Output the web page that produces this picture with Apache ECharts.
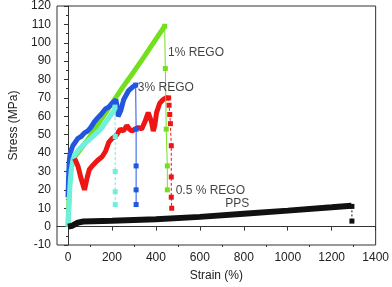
<!DOCTYPE html>
<html><head><meta charset="utf-8">
<script src="https://cdn.jsdelivr.net/npm/echarts@6/dist/echarts.min.js"></script>
<style>html,body{margin:0;padding:0;background:#fff}#c{width:392px;height:287px}</style>
</head><body><div id="c"></div>
<script>
const xMajorTicks = [0,200,400,600,800,1000,1200,1400];
const xMinorTicks = [100,300,500,700,900,1100,1300];

const greenMain = [[0,0],[3,10],[6,20],[10,28],[15,32],[25,37],[50,41],[100,49],[150,58],[194,66],[250,76],[298,84],[350,93],[400,102],[440,109]];
const greenDrop = [[440,109],[443,86],[447,53],[452,33],[452,20]];

const blueMain = [[0,16],[3,28],[6,36],[10,40],[22,44],[45,48],[60,49],[75,51],[90,52],[104,54],[120,57],[134,59],[150,61],[170,64],[185,65],[200,67],[218,69],[224,65],[228,60],[234,59],[240,63],[253,69],[262,70],[276,74],[295,76],[308,77]];
const blueDrop = [[308,77],[310,53],[310,33],[310,20],[310,12]];

const cyanMain = [[0,0],[4,10],[7,18],[11,26],[15,31],[22,36],[30,39],[50,42],[75,45],[104,48],[149,53],[179,58],[209,63],[214,65]];
const cyanDrop = [[214,65],[215,49],[215,30],[215,19],[215,12]];

const redMain = [[30,37],[45,33],[60,26],[75,20],[88,27],[97,31],[110,33],[134,36],[155,38],[171,41],[186,46],[201,48],[216,49],[238,53],[252,52],[268,55],[280,53],[291,52],[305,53],[320,54],[335,53],[350,57],[365,62],[373,63],[380,57],[388,52],[395,55],[403,62],[417,67],[432,69],[445,70],[458,70]];
const redDrop = [[458,70],[460,66],[463,61],[466,56],[470,44],[470,27],[470,16],[472,10]];

const ppsMain = [[0,0],[20,0.5],[45,2.2],[70,2.8],[200,3.2],[400,4],[600,5.3],[800,7],[1000,8.7],[1200,10.5],[1290,11.4]];
const ppsDrop = [[1292,11],[1292,3]];

const labelNames = ['1% REGO','3% REGO','0.5 % REGO','PPS'];
const labelPos = [[455,94.5],[318,75.5],[490,19.4],[716,12.6]];

const FONT = 'Liberation Sans, Arial, sans-serif';
const G = '#72e01e', B = '#2255e0', C = '#6ff0dc', R = '#ee1515', K = '#111111';

function mainLine(data, color, w){
  return {type:'line', data, symbol:'none', lineStyle:{color, width:w}, animation:false, z:2};
}
function dropLine(data, color, dashed){
  return {type:'line', data, symbol:'rect', symbolSize:5, showSymbol:true,
    itemStyle:{color}, lineStyle:{color, width:1, type: dashed?[3,2]:'solid'}, animation:false, z:3};
}

const chart = echarts.init(document.getElementById('c'), null, {renderer:'canvas'});
chart.setOption({
  animation:false,
  grid:{left:54, right:14, top:6, bottom:41, show:true, borderColor:'#333', borderWidth:1},
  xAxis:[{
    type:'value', min:-50, max:1400,
    name:'Strain (%)', nameLocation:'middle', nameGap:25,
    nameTextStyle:{fontFamily:FONT, fontSize:12, color:'#222'},
    axisLine:{show:true, lineStyle:{color:'#333'}},
    axisTick:{show:true, customValues:xMajorTicks, length:4, inside:false, lineStyle:{color:'#333'}},
    axisLabel:{customValues:xMajorTicks, formatter:v=>String(v), fontFamily:FONT, fontSize:12, color:'#222', margin:7},
    splitLine:{show:false}
  },{
    type:'value', min:-50, max:1400, position:'bottom',
    axisLine:{show:false},
    axisTick:{show:true, customValues:xMinorTicks, length:2, lineStyle:{color:'#333'}},
    axisLabel:{show:false}, splitLine:{show:false}
  }],
  yAxis:{
    type:'value', min:-10, max:120, interval:10,
    name:'Stress (MPa)', nameLocation:'middle', nameGap:37,
    nameTextStyle:{fontFamily:FONT, fontSize:12, color:'#222'},
    axisLine:{show:true, lineStyle:{color:'#333'}},
    axisTick:{show:true, length:4, lineStyle:{color:'#333'}},
    minorTick:{show:true, splitNumber:2, length:2, lineStyle:{color:'#333'}},
    axisLabel:{fontFamily:FONT, fontSize:12, color:'#222', margin:6},
    splitLine:{show:false}
  },
  series:[
    mainLine(greenMain, G, 5), dropLine(greenDrop, G, false),
    mainLine(blueMain, B, 5), dropLine(blueDrop, B, false),
    mainLine(cyanMain, C, 5), dropLine(cyanDrop, C, true),
    mainLine(redMain, R, 5), dropLine(redDrop, R, true),
    mainLine(ppsMain, K, 6),
    {type:'line', data:ppsDrop, symbol:'rect', symbolSize:5, showSymbol:true, itemStyle:{color:K},
     lineStyle:{color:K, width:1, type:[2,2]}, animation:false, z:3},
    {type:'scatter', symbolSize:0, animation:false, z:5,
     data: labelPos.map((p,i)=>({value:p, name:labelNames[i]})),
     label:{show:true, position:'right', distance:0, formatter:p=>p.name, fontFamily:FONT, fontSize:12, color:'#111'}}
  ]
});
</script></body></html>
